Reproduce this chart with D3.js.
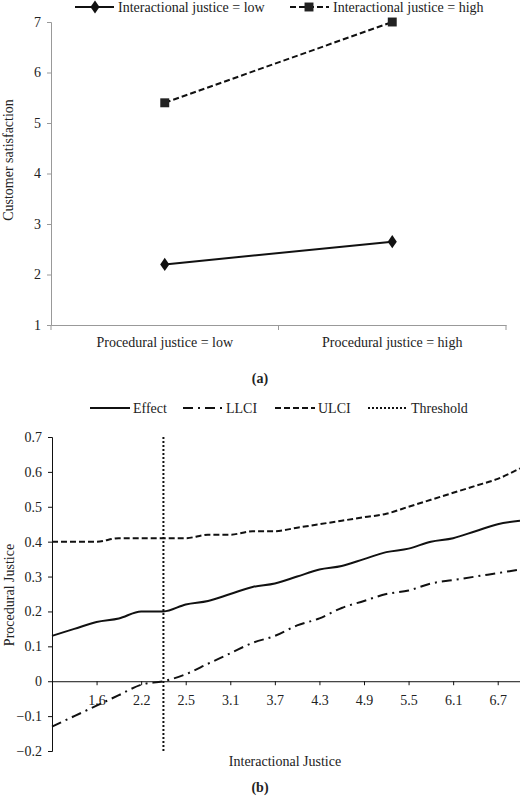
<!DOCTYPE html><html><head><meta charset="utf-8"><script src="https://cdn.jsdelivr.net/npm/d3@7"></script>
<style>body{margin:0;background:#fff}svg text{font-family:"Liberation Serif","Times New Roman",Times,serif !important;fill:#222}</style></head><body><svg id="c" width="520" height="800"></svg><script>
// Panel (a)
const catsA=["Procedural justice = low","Procedural justice = high"];
const lowIJ=[2.2,2.65];
const highIJ=[5.4,7.0];
const yTicksA=[1,2,3,4,5,6,7];
// Panel (b)
const catsB=["1.0","1.3","1.6","1.9","2.2","2.35","2.5","2.8","3.1","3.4","3.7","4.0","4.3","4.6","4.9","5.2","5.5","5.8","6.1","6.4","6.7","7.0"];
const shownB=["1.6","2.2","2.5","3.1","3.7","4.3","4.9","5.5","6.1","6.7"];
const effect=[0.13,0.15,0.17,0.18,0.20,0.20,0.22,0.23,0.25,0.27,0.28,0.30,0.32,0.33,0.35,0.37,0.38,0.40,0.41,0.43,0.45,0.46];
const ulci=[0.40,0.40,0.40,0.41,0.41,0.41,0.41,0.42,0.42,0.43,0.43,0.44,0.45,0.46,0.47,0.48,0.50,0.52,0.54,0.56,0.58,0.61];
const llci=[-0.13,-0.10,-0.07,-0.04,-0.01,0.00,0.02,0.05,0.08,0.11,0.13,0.16,0.18,0.21,0.23,0.25,0.26,0.28,0.29,0.30,0.31,0.32];
const threshold="2.35";
const yTicksB=[-0.2,-0.1,0,0.1,0.2,0.3,0.4,0.5,0.6,0.7];

const svg=d3.select("#c");
const FS=14;
// ---- panel a
const xa=d3.scaleBand().domain(catsA).range([51,506]);
const ya=d3.scaleLinear().domain([1,7]).range([325,22]);
const ga=svg.append("g");
ga.append("g").attr("transform","translate(51,0)").call(d3.axisLeft(ya).tickValues(yTicksA).tickFormat(d3.format("d")).tickSize(4).tickPadding(6))
 .call(g=>{g.selectAll("path,line").attr("stroke","#999");g.selectAll("text").attr("font-size",FS).attr("fill","#222");});
ga.append("g").attr("transform","translate(0,325)").call(d3.axisBottom(xa).tickSize(0).tickPadding(12))
 .call(g=>{g.selectAll("path").attr("stroke","#999");g.selectAll("text").attr("font-size",FS).attr("fill","#222");});
[51,278.5,506].forEach(x=>ga.append("line").attr("x1",x).attr("x2",x).attr("y1",325).attr("y2",330).attr("stroke","#999"));
const cx=c=>xa(c)+xa.bandwidth()/2;
const la=d3.line().x((d,i)=>cx(catsA[i])).y(d=>ya(d));
ga.append("path").attr("d",la(lowIJ)).attr("fill","none").attr("stroke","#111").attr("stroke-width",2);
ga.append("path").attr("d",la(highIJ)).attr("fill","none").attr("stroke","#111").attr("stroke-width",2).attr("stroke-dasharray","6,3");
const diamond=d3.symbol().type(d3.symbolDiamond).size(50), square=d3.symbol().type(d3.symbolSquare).size(80);
lowIJ.forEach((v,i)=>ga.append("path").attr("d",diamond()).attr("transform",`translate(${cx(catsA[i])},${ya(v)}) scale(1.2,1)`).attr("fill","#111"));
highIJ.forEach((v,i)=>ga.append("path").attr("d",square()).attr("transform",`translate(${cx(catsA[i])},${ya(v)})`).attr("fill","#222"));
ga.append("text").attr("transform","translate(13,160) rotate(-90)").attr("text-anchor","middle").attr("font-size",FS).text("Customer satisfaction");
// legend a
ga.append("line").attr("x1",75).attr("x2",114).attr("y1",7).attr("y2",7).attr("stroke","#111").attr("stroke-width",2);
ga.append("path").attr("d",diamond()).attr("transform","translate(95,7) scale(1.2,1)").attr("fill","#111");
ga.append("text").attr("x",118).attr("y",11.5).attr("font-size",FS).text("Interactional justice = low");
ga.append("line").attr("x1",290).attr("x2",329).attr("y1",7).attr("y2",7).attr("stroke","#111").attr("stroke-width",2).attr("stroke-dasharray","6,3");
ga.append("path").attr("d",square()).attr("transform","translate(309,7)").attr("fill","#222");
ga.append("text").attr("x",333).attr("y",11.5).attr("font-size",FS).text("Interactional justice = high");
svg.append("text").attr("x",260).attr("y",383).attr("text-anchor","middle").attr("font-size",FS).attr("font-weight","bold").text("(a)");

// ---- panel b
const xb=d3.scalePoint().domain(catsB).range([52,520]);
const yb=d3.scaleLinear().domain([-0.2,0.7]).range([751,437]);
const gb=svg.append("g");
const fmt=d=>d===0?"0":(d<0?"\u2212"+Math.abs(d).toFixed(1):d.toFixed(1));
gb.append("g").attr("transform","translate(52,0)").call(d3.axisLeft(yb).tickValues(yTicksB).tickFormat(fmt).tickSize(4).tickPadding(6))
 .call(g=>{g.selectAll("path,line").attr("stroke","#111");g.selectAll("text").attr("font-size",FS).attr("fill","#222");});
gb.append("g").attr("transform",`translate(0,${yb(0)})`).call(d3.axisBottom(xb).tickValues(shownB).tickSize(4).tickPadding(10).tickSizeOuter(0))
 .call(g=>{g.selectAll("path,line").attr("stroke","#111");g.selectAll("text").attr("font-size",FS).attr("fill","#222");});
const lb=d3.line().x((d,i)=>xb(catsB[i])).y(d=>yb(d)).curve(d3.curveMonotoneX);
gb.append("path").attr("d",lb(effect)).attr("fill","none").attr("stroke","#111").attr("stroke-width",2);
gb.append("path").attr("d",lb(ulci)).attr("fill","none").attr("stroke","#111").attr("stroke-width",2).attr("stroke-dasharray","6,3");
gb.append("path").attr("d",lb(llci)).attr("fill","none").attr("stroke","#111").attr("stroke-width",2).attr("stroke-dasharray","10,5,2,5");
gb.append("line").attr("x1",xb(threshold)).attr("x2",xb(threshold)).attr("y1",yb(0.7)).attr("y2",yb(-0.2)).attr("stroke","#111").attr("stroke-width",2).attr("stroke-dasharray","2,2");
gb.append("text").attr("transform","translate(14,595) rotate(-90)").attr("text-anchor","middle").attr("font-size",FS).text("Procedural Justice");
gb.append("text").attr("x",285).attr("y",766).attr("text-anchor","middle").attr("font-size",FS).text("Interactional Justice");
const leg=[["Effect",90,"none"],["LLCI",183,"10,5,2,5"],["ULCI",275,"6,3"],["Threshold",368,"2,2"]];
leg.forEach(([t,x,da])=>{gb.append("line").attr("x1",x).attr("x2",x+40).attr("y1",408).attr("y2",408).attr("stroke","#111").attr("stroke-width",2).attr("stroke-dasharray",da);
 gb.append("text").attr("x",x+43).attr("y",412.5).attr("font-size",FS).text(t);});
svg.append("text").attr("x",260).attr("y",792).attr("text-anchor","middle").attr("font-size",FS).attr("font-weight","bold").text("(b)");
</script></body></html>
